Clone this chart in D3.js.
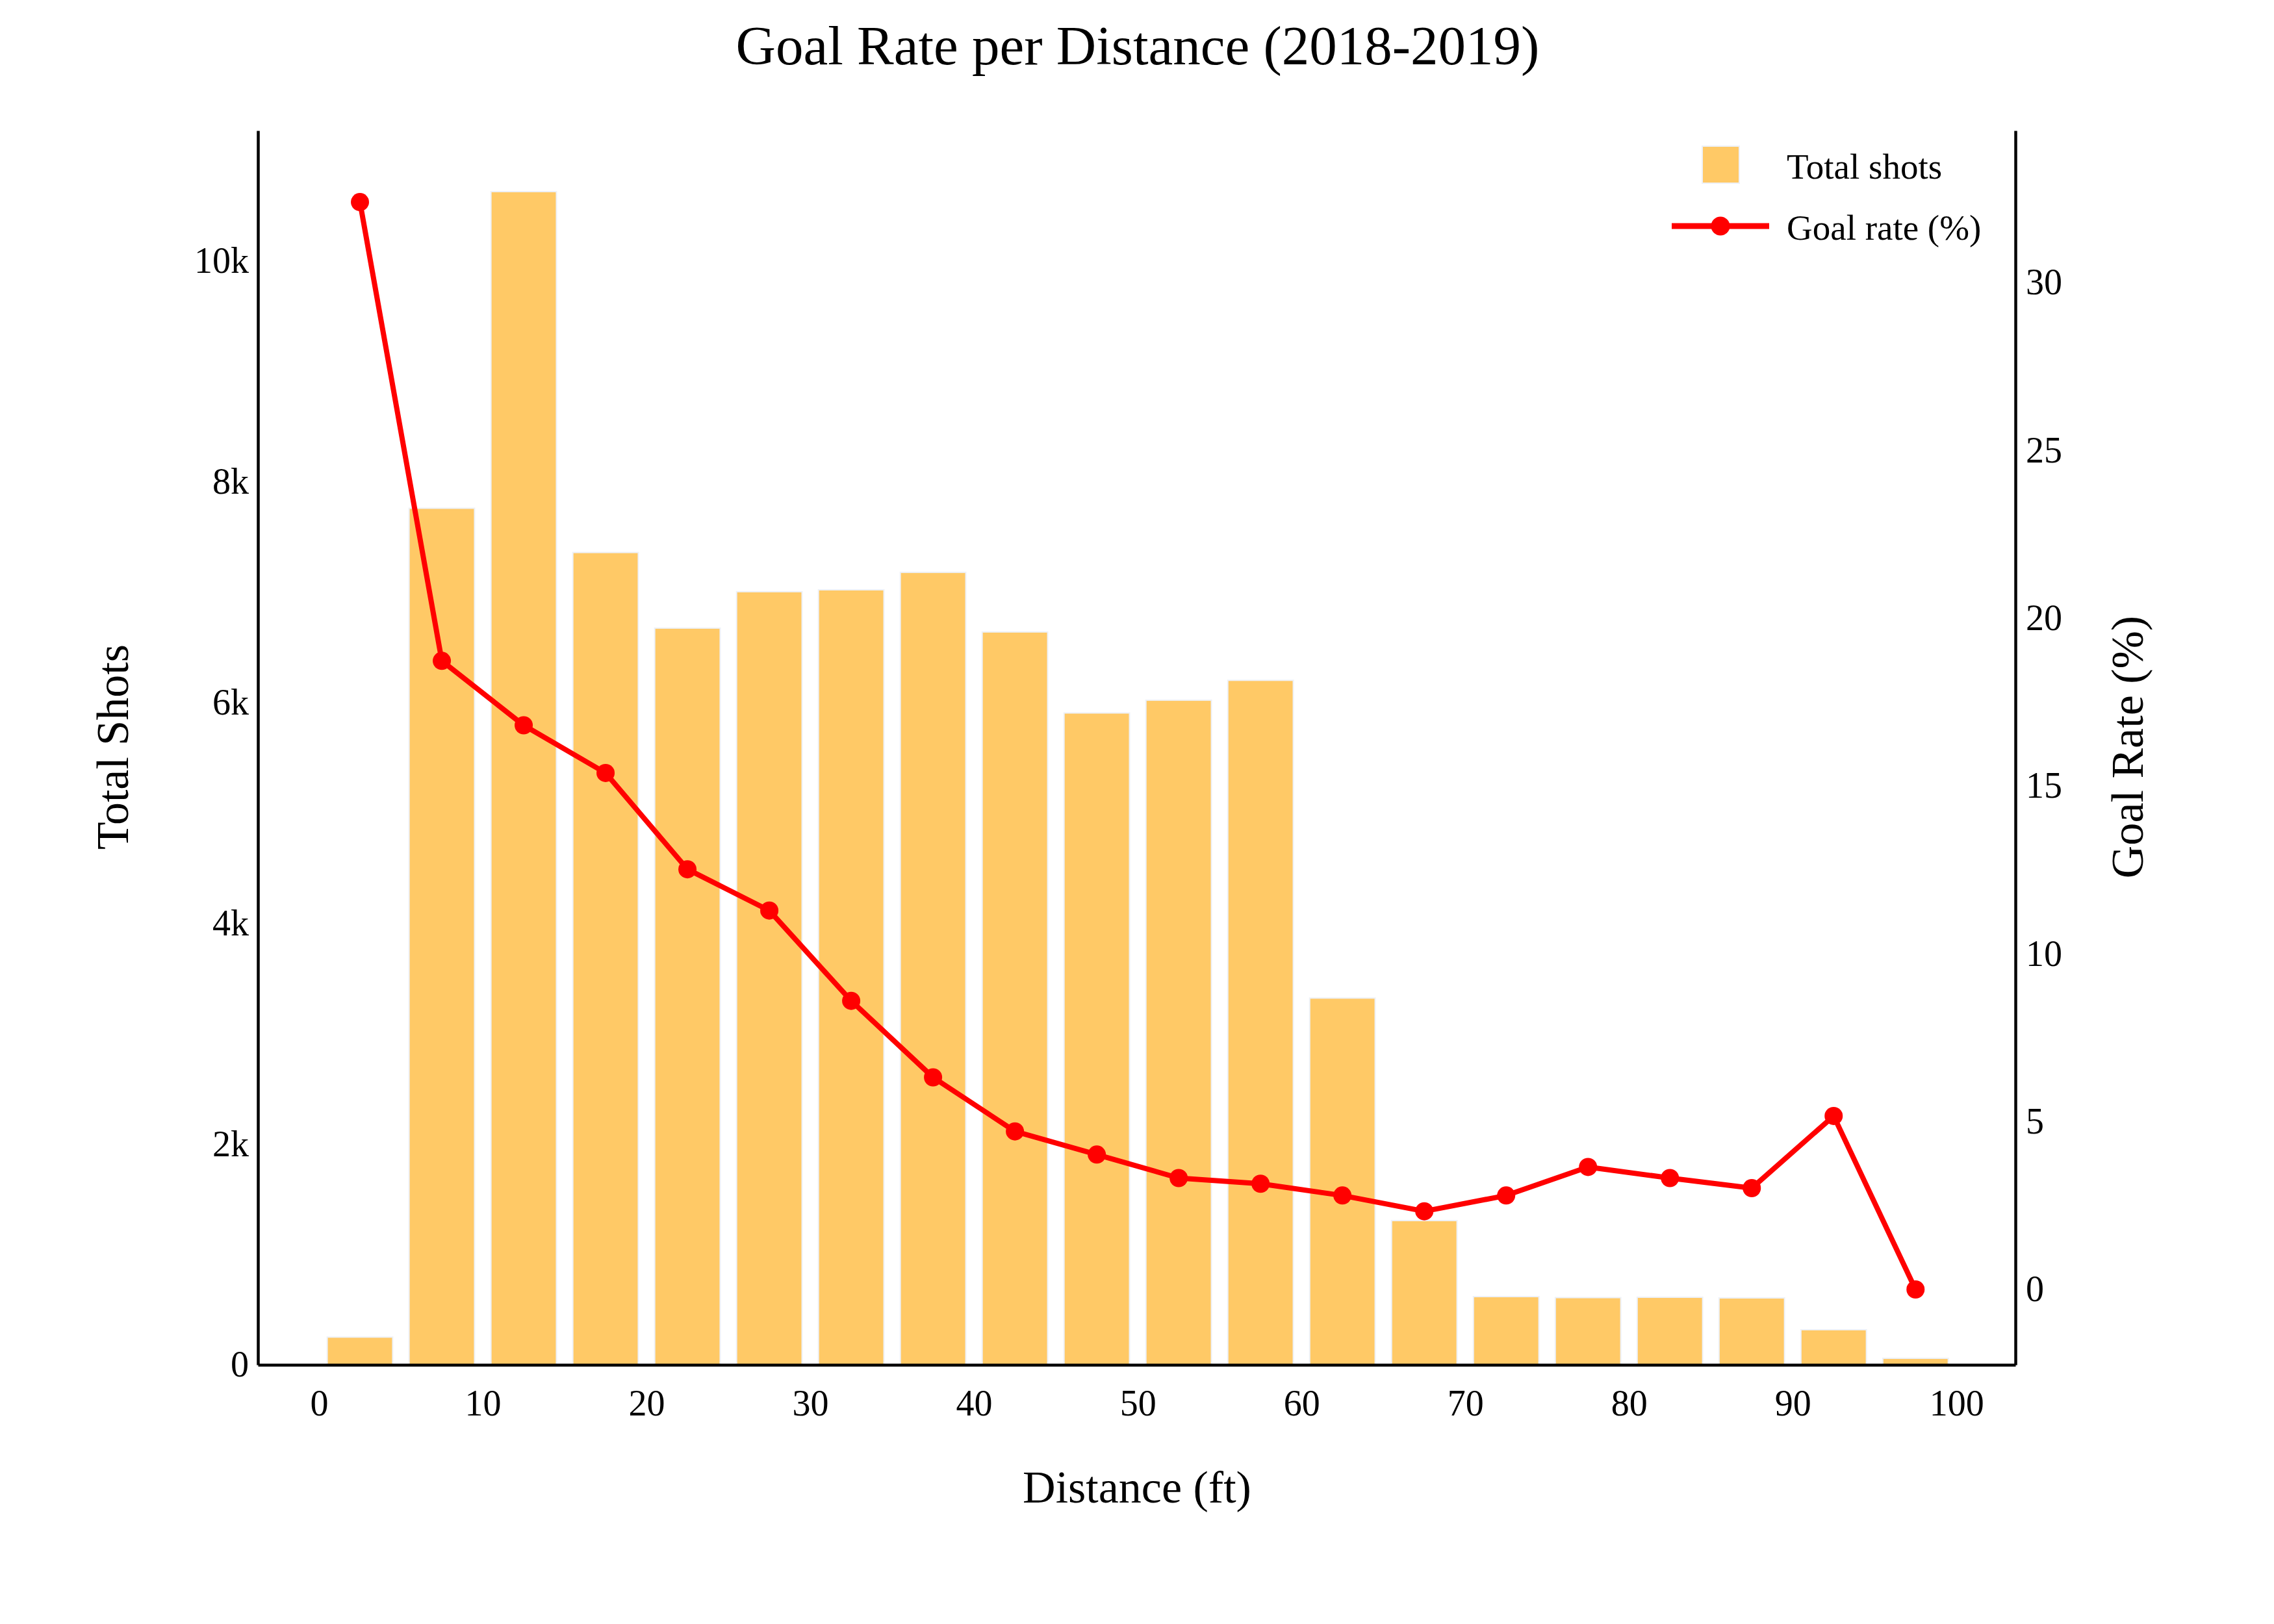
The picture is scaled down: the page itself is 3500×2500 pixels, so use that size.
<!DOCTYPE html>
<html>
<head>
<meta charset="utf-8">
<script src="https://cdn.jsdelivr.net/npm/d3@7"></script>
<style>
  body { margin: 0; background: #fff; }
  text { font-family: "Liberation Serif", "Times New Roman", serif; fill: #000; }
</style>
</head>
<body>
<svg id="chart"></svg>
<script>
// bin centres (ft), shots per bin and goal rate per bin
var distances = [2.5, 7.5, 12.5, 17.5, 22.5, 27.5, 32.5, 37.5, 42.5, 47.5,
                 52.5, 57.5, 62.5, 67.5, 72.5, 77.5, 82.5, 87.5, 92.5, 97.5];
var totalShots = [251, 7761, 10630, 7360, 6675, 7005, 7022, 7180, 6640, 5906,
                  6022, 6202, 3323, 1307, 618, 609, 612, 606, 318, 59];
var goalRate = [32.40, 18.73, 16.81, 15.39, 12.52, 11.29, 8.60, 6.32, 4.71, 4.02,
                3.32, 3.15, 2.80, 2.33, 2.80, 3.65, 3.32, 3.02, 5.17, 0];
var xTicks = [0, 10, 20, 30, 40, 50, 60, 70, 80, 90, 100];
var shotTicks = [0, 2000, 4000, 6000, 8000, 10000];
var rateTicks = [0, 5, 10, 15, 20, 25, 30];

var width = 3500, height = 2500;
// plot box (note: "top" is taken by window.top, so prefix these)
var plotLeft = 397, plotRight = 3102, plotTop = 201, plotBottom = 2101;
var binWidth = 5, barFrac = 0.8;

var svg = d3.select("#chart").attr("width", width).attr("height", height);

var x = d3.scaleLinear().domain([-3.73, 103.6]).range([plotLeft, plotRight]);
var yShots = d3.scaleLinear().domain([0, 11183]).range([plotBottom, plotTop]);
var yRate = d3.scaleLinear().domain([-2.245, 34.53]).range([plotBottom, plotTop]);

var data = distances.map(function(d, i) {
  return { dist: d, shots: totalShots[i], rate: goalRate[i] };
});

// bars
svg.append("g").selectAll("rect")
    .data(data)
  .enter().append("rect")
    .attr("x", function(d) { return x(d.dist - binWidth * barFrac / 2); })
    .attr("width", function(d) { return x(d.dist + binWidth * barFrac / 2) - x(d.dist - binWidth * barFrac / 2); })
    .attr("y", function(d) { return yShots(d.shots); })
    .attr("height", function(d) { return yShots(0) - yShots(d.shots); })
    .attr("fill", "#FFC966")
    .attr("stroke", "#EEF1F7")
    .attr("stroke-width", 2);

// goal rate line
var line = d3.line()
    .x(function(d) { return x(d.dist); })
    .y(function(d) { return yRate(d.rate); });

svg.append("path")
    .datum(data)
    .attr("d", line)
    .attr("fill", "none")
    .attr("stroke", "#FF0000")
    .attr("stroke-width", 8)
    .attr("stroke-linejoin", "round");

svg.append("g").selectAll("circle")
    .data(data)
  .enter().append("circle")
    .attr("cx", function(d) { return x(d.dist); })
    .attr("cy", function(d) { return yRate(d.rate); })
    .attr("r", 14)
    .attr("fill", "#FF0000");

// axes (no tick marks, just the line and labels)
function styleAxis(g) {
  g.selectAll(".tick line").remove();
  g.select(".domain").attr("stroke", "#000").attr("stroke-width", 4.5);
  g.selectAll(".tick text").attr("font-size", 56)
    .attr("font-family", "'Liberation Serif', 'Times New Roman', serif");
}

svg.append("g")
    .attr("transform", "translate(0," + plotBottom + ")")
    .call(d3.axisBottom(x).tickValues(xTicks).tickSize(0).tickPadding(38).tickSizeOuter(0))
    .call(styleAxis);

svg.append("g")
    .attr("transform", "translate(" + plotLeft + ",0)")
    .call(d3.axisLeft(yShots).tickValues(shotTicks).tickSize(0).tickPadding(14).tickSizeOuter(0)
      .tickFormat(function(d) { return d === 0 ? "0" : (d / 1000) + "k"; }))
    .call(styleAxis);

svg.append("g")
    .attr("transform", "translate(" + plotRight + ",0)")
    .call(d3.axisRight(yRate).tickValues(rateTicks).tickSize(0).tickPadding(16).tickSizeOuter(0))
    .call(styleAxis);

// titles
svg.append("text")
    .attr("x", 1751).attr("y", 99)
    .attr("text-anchor", "middle")
    .attr("font-size", 85)
    .text("Goal Rate per Distance (2018-2019)");

svg.append("text")
    .attr("x", 1750).attr("y", 2313)
    .attr("text-anchor", "middle")
    .attr("font-size", 70)
    .text("Distance (ft)");

svg.append("text")
    .attr("transform", "translate(197,1150) rotate(-90)")
    .attr("text-anchor", "middle")
    .attr("font-size", 70)
    .text("Total Shots");

svg.append("text")
    .attr("transform", "translate(3298,1150) rotate(-90)")
    .attr("text-anchor", "middle")
    .attr("font-size", 70)
    .text("Goal Rate (%)");

// legend
var legend = svg.append("g");
legend.append("rect")
    .attr("x", 2620).attr("y", 225)
    .attr("width", 57).attr("height", 57)
    .attr("fill", "#FFC966")
    .attr("stroke", "#EEF1F7")
    .attr("stroke-width", 2);
legend.append("text")
    .attr("x", 2750).attr("y", 275)
    .attr("font-size", 55)
    .text("Total shots");

legend.append("line")
    .attr("x1", 2573).attr("x2", 2723)
    .attr("y1", 348).attr("y2", 348)
    .attr("stroke", "#FF0000")
    .attr("stroke-width", 9);
legend.append("circle")
    .attr("cx", 2648).attr("cy", 348)
    .attr("r", 14.5)
    .attr("fill", "#FF0000");
legend.append("text")
    .attr("x", 2750).attr("y", 369)
    .attr("font-size", 55)
    .text("Goal rate (%)");
</script>
</body>
</html>
